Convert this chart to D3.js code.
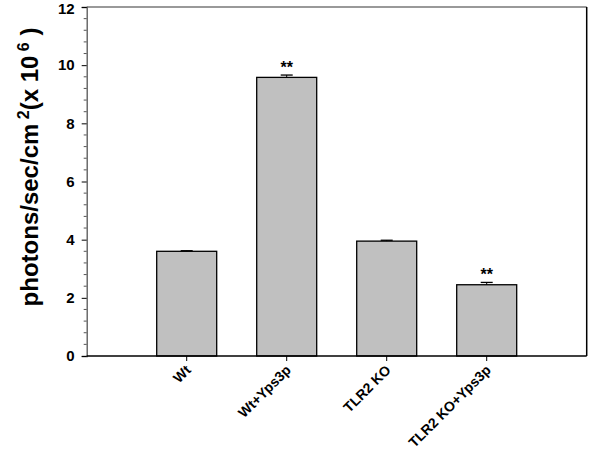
<!DOCTYPE html>
<html><head><meta charset="utf-8">
<script src="https://cdn.jsdelivr.net/npm/d3@7"></script>
<style>body{margin:0;background:#fff}svg{display:block}text{font-family:Arial,"Liberation Sans",sans-serif;font-weight:bold}</style>
</head><body><svg id="c" width="600" height="463"></svg>
<script>
const categories = ["Wt", "Wt+Yps3p", "TLR2 KO", "TLR2 KO+Yps3p"];
const values = [3.6, 9.58, 3.95, 2.45];
const errors = [0.02, 0.08, 0.03, 0.08];
const significance = ["", "**", "", "**"];
const yTicks = [0, 2, 4, 6, 8, 10, 12];

const svg = d3.select("#c");
const L = 86.7, R = 586.7, T = 7, B = 356;
const x = d3.scaleLinear().domain([0, 5]).range([L, R]);
const y = d3.scaleLinear().domain([0, 12]).range([B, T]);
const bw = 60;

// frame top/right
svg.append("line").attr("x1", L).attr("x2", R).attr("y1", T).attr("y2", T).attr("stroke", "#777").attr("stroke-width", 1.5);
svg.append("line").attr("x1", R).attr("x2", R).attr("y1", T).attr("y2", B).attr("stroke", "#000").attr("stroke-width", 1.5);

// bars
svg.selectAll("rect.bar").data(values).enter().append("rect")
  .attr("x", (d, i) => x(i + 1) - bw / 2).attr("width", bw)
  .attr("y", d => y(d)).attr("height", d => B - y(d))
  .attr("fill", "#c0c0c0").attr("stroke", "#000").attr("stroke-width", 1.3);

// error bars
values.forEach((v, i) => {
  const cx = x(i + 1);
  svg.append("line").attr("x1", cx).attr("x2", cx).attr("y1", y(v)).attr("y2", y(v + errors[i])).attr("stroke", "#000");
  svg.append("line").attr("x1", cx - 6).attr("x2", cx + 6).attr("y1", y(v + errors[i])).attr("y2", y(v + errors[i])).attr("stroke", "#000").attr("stroke-width", 1.3);
  if (significance[i]) svg.append("text").attr("x", cx).attr("y", y(v + errors[i]) - 2).attr("text-anchor", "middle").attr("font-size", 16).text(significance[i]);
});

// y axis
const yAxis = svg.append("g").attr("transform", `translate(${L},0)`)
  .call(d3.axisLeft(y).tickValues(yTicks).tickSize(5).tickPadding(7).tickFormat(d3.format("d")));
yAxis.select(".domain").attr("stroke", "#555").attr("stroke-width", 1.3);
yAxis.selectAll("text").attr("font-size", 15).attr("fill", "#000").style("font-family", "Arial, 'Liberation Sans', sans-serif").style("font-weight", "bold");
yAxis.selectAll(".tick").filter(d => d === 12).select("text").attr("dy", "0.38em").attr("y", 1);
const minor = d3.range(0, 12.01, 0.4).filter(v => Math.abs(v / 2 - Math.round(v / 2)) > 0.01);
svg.selectAll("line.minor").data(minor).enter().append("line")
  .attr("x1", L - 3).attr("x2", L).attr("y1", d => y(d)).attr("y2", d => y(d)).attr("stroke", "#555");

// x axis
svg.append("line").attr("x1", L).attr("x2", R).attr("y1", B).attr("y2", B).attr("stroke", "#000").attr("stroke-width", 1.5);
categories.forEach((c, i) => {
  const cx = x(i + 1);
  svg.append("line").attr("x1", cx).attr("x2", cx).attr("y1", B).attr("y2", B + 5).attr("stroke", "#000");
  svg.append("text").attr("transform", `translate(${cx + 5},${B + 15}) rotate(-45)`)
    .attr("text-anchor", "end").attr("font-size", 14).text(c);
});

// y label
svg.append("text").attr("transform", `translate(38,167) rotate(-90)`).attr("text-anchor", "middle").attr("font-size", 24)
  .html('photons/sec/cm<tspan dy="-9" font-size="16"> 2</tspan><tspan dy="9">(x 10</tspan><tspan dy="-9" font-size="16"> 6</tspan><tspan dy="9"> )</tspan>');
</script></body></html>
